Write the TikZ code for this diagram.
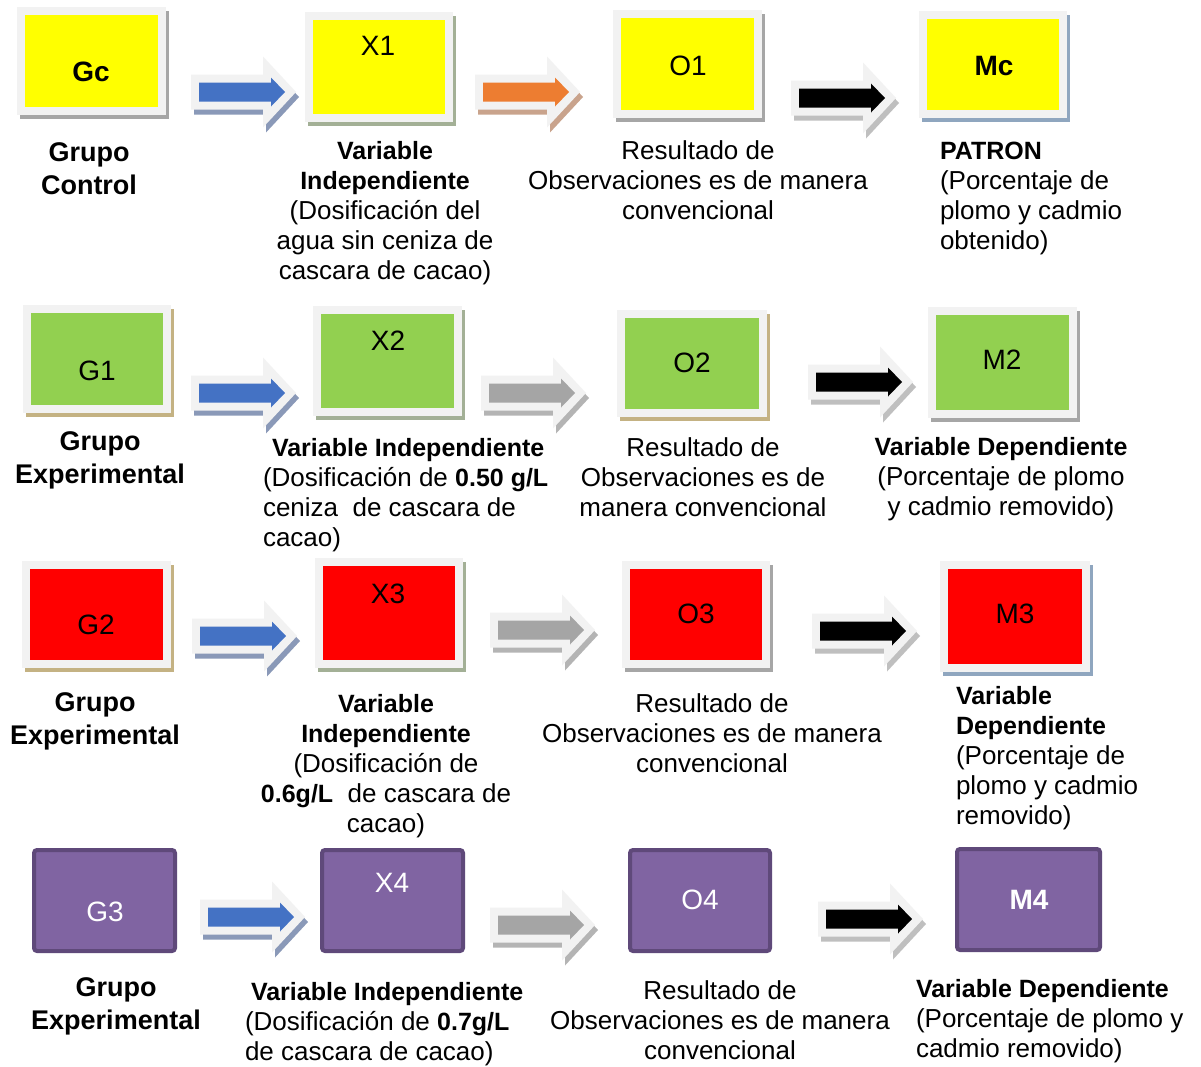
\documentclass[tikz,border=0pt]{standalone}
\usepackage{fontspec}
\setmainfont{Liberation Sans}
\definecolor{frameC}{HTML}{F2F2F2}
\definecolor{yelC}{HTML}{FFFF00}
\definecolor{grnC}{HTML}{92D050}
\definecolor{redC}{HTML}{FF0000}
\definecolor{purC}{HTML}{8064A2}
\definecolor{purD}{HTML}{5F497A}
\definecolor{shGray}{HTML}{A6A6A6}
\definecolor{shGreen}{HTML}{A3B096}
\definecolor{shBlue}{HTML}{8FA6BF}
\definecolor{shTan}{HTML}{C4B283}
\definecolor{arBlue}{HTML}{4472C4}
\definecolor{arBlueSh}{HTML}{8A99B8}
\definecolor{arOrange}{HTML}{ED7D31}
\definecolor{arOrangeSh}{HTML}{C9A38C}
\definecolor{arGray}{HTML}{A5A5A5}
\definecolor{arGraySh}{HTML}{B4B4B4}
\definecolor{arBlackSh}{HTML}{BFBFBF}
\newcommand\bt[1]{{\fontsize{25}{30}\selectfont\bfseries #1}}
\tikzset{
  txt/.style={inner sep=0pt, outer sep=0pt, font=\fontsize{26}{30}\selectfont},
  grp/.style={inner sep=0pt, outer sep=0pt, font=\fontsize{27}{33}\selectfont\bfseries, align=center, anchor=north},
  blab/.style={inner sep=0pt, outer sep=0pt, font=\fontsize{28}{30}\selectfont},
  wlab/.style={blab, text=white},
}
% framed box: name x1 y1 x2 y2 fill shadow
\newcommand\fbx[7]{%
  \fill[#7] ({#2+3},{#3+4}) rectangle ({#4+3},{#5+4});
  \node[draw=frameC, line width=8pt, fill=#6, inner sep=0pt, outer sep=0pt,
        minimum width={#4-#2-8}, minimum height={#5-#3-8}] (#1) at ({(#2+#4)/2},{(#3+#5)/2}) {};}
% purple box: name x1 y1 x2 y2
\newcommand\pbx[5]{%
  \node[draw=purD, line width=4pt, fill=purC, rounded corners=3pt, inner sep=0pt, outer sep=0pt,
        minimum width={#4-#2-4}, minimum height={#5-#3-4}] (#1) at ({(#2+#4)/2},{(#3+#5)/2}) {};}
% block arrow: x0 yc color shadow
\newcommand\barrow[4]{%
  \begin{scope}[shift={(#1,#2)}]
    \fill[#4] (3,-12.5) -- (75,-12.5) -- (75,-30.5) -- (108,5) -- (75,40.5) -- (75,22.5) -- (3,22.5) -- cycle;
    \fill[frameC] (0,-17.5) -- (72,-17.5) -- (72,-35.5) -- (105,0) -- (72,35.5) -- (72,17.5) -- (0,17.5) -- cycle;
    \fill[#3] (8,-9.5) -- (80,-9.5) -- (80,-14.5) -- (94,0) -- (80,14.5) -- (80,9.5) -- (8,9.5) -- cycle;
  \end{scope}}
\begin{document}
\begin{tikzpicture}[x=1pt,y=-1pt]
\useasboundingbox[fill=white] (0,0) rectangle (1201,1066);

% ---------- Row 1 ----------
\fbx{Gc}{17}{7}{166}{115}{yelC}{shGray}
\fbx{X1}{305}{12}{453}{122}{yelC}{shGreen}
\fbx{O1}{613}{10}{762}{118}{yelC}{shGray}
\fbx{Mc}{919}{11}{1067}{118}{yelC}{shBlue}
\node[blab] (lGc) at (91,72) {\textbf{Gc}};
\node[blab] (lX1) at (378,46) {X1};
\node[blab] (lO1) at (688,66) {O1};
\node[blab] (lMc) at (994,66) {\textbf{Mc}};
\barrow{191}{92}{arBlue}{arBlueSh}
\barrow{475}{92}{arOrange}{arOrangeSh}
\barrow{791}{98}{black}{arBlackSh}

\node[grp] (tGc) at (89,138) {\strut Grupo\\Control};
\node[txt, align=center, anchor=north] (tX1) at (385,138)
  {\strut\bt{Variable}\\\bt{Independiente}\\(Dosificación del\\agua sin ceniza de\\cascara de cacao)};
\node[txt, align=center, anchor=north] (tO1) at (698,138)
  {\strut Resultado de\\Observaciones es de manera\\convencional};
\node[txt, align=left, anchor=north west] (tMc) at (940,138)
  {\strut\bt{PATRON}\\(Porcentaje de\\plomo y cadmio\\obtenido)};

% ---------- Row 2 ----------
\fbx{G1}{23}{305}{171}{413}{grnC}{shTan}
\fbx{X2}{313}{306}{462}{416}{grnC}{shGreen}
\fbx{O2}{617}{310}{767}{417}{grnC}{shTan}
\fbx{M2}{928}{307}{1077}{418}{grnC}{shGray}
\node[blab] (lG1) at (97,371) {G1};
\node[blab] (lX2) at (388,341) {X2};
\node[blab] (lO2) at (692,363) {O2};
\node[blab] (lM2) at (1002,360) {M2};
\barrow{191}{393}{arBlue}{arBlueSh}
\barrow{481}{393}{arGray}{arGraySh}
\barrow{808}{382}{black}{arBlackSh}

\node[grp] (tG1) at (100,427) {\strut Grupo\\Experimental};
\node[txt, align=left, anchor=north west] (tX2) at (263,435)
  {\strut\hspace*{9pt}\bt{Variable Independiente}\\(Dosificación de \bt{0.50 g/L}\\ceniza\ \ de cascara de\\cacao)};
\node[txt, align=center, anchor=north] (tO2) at (703,435)
  {\strut Resultado de\\Observaciones es de\\manera convencional};
\node[txt, align=center, anchor=north] (tM2) at (1001,434)
  {\strut\bt{Variable Dependiente}\\(Porcentaje de plomo\\y cadmio removido)};

% ---------- Row 3 ----------
\fbx{G2}{22}{561}{171}{668}{redC}{shTan}
\fbx{X3}{315}{558}{463}{668}{redC}{shGreen}
\fbx{O3}{622}{561}{770}{668}{redC}{shGray}
\fbx{M3}{940}{561}{1090}{672}{redC}{shBlue}
\node[blab] (lG2) at (96,625) {G2};
\node[blab] (lX3) at (388,594) {X3};
\node[blab] (lO3) at (696,614) {O3};
\node[blab] (lM3) at (1015,614) {M3};
\barrow{192}{636}{arBlue}{arBlueSh}
\barrow{490}{630}{arGray}{arGraySh}
\barrow{812}{631}{black}{arBlackSh}

\node[grp] (tG2) at (95,688) {\strut Grupo\\Experimental};
\node[txt, align=center, anchor=north] (tX3) at (386,691)
  {\strut\bt{Variable}\\\bt{Independiente}\\(Dosificación de\\\bt{0.6g/L}\ \ de cascara de\\cacao)};
\node[txt, align=center, anchor=north] (tO3) at (712,691)
  {\strut Resultado de\\Observaciones es de manera\\convencional};
\node[txt, align=left, anchor=north west] (tM3) at (956,683)
  {\strut\bt{Variable}\\\bt{Dependiente}\\(Porcentaje de\\plomo y cadmio\\removido)};

% ---------- Row 4 ----------
\pbx{G3}{32}{848}{177}{953}
\pbx{X4}{320}{848}{465}{953}
\pbx{O4}{628}{848}{772}{953}
\pbx{M4}{955}{847}{1102}{952}
\node[wlab] (lG3) at (105,912) {G3};
\node[wlab] (lX4) at (392,883) {X4};
\node[wlab] (lO4) at (700,900) {O4};
\node[wlab] (lM4) at (1029,900) {\textbf{M4}};
\barrow{200}{917}{arBlue}{arBlueSh}
\barrow{490}{925}{arGray}{arGraySh}
\barrow{818}{919}{black}{arBlackSh}

\node[grp] (tG3) at (116,973) {\strut Grupo\\Experimental};
\node[txt, align=left, anchor=north west] (tX4) at (245,979)
  {\strut\hspace*{6pt}\bt{Variable Independiente}\\(Dosificación de \bt{0.7g/L}\\de cascara de cacao)};
\node[txt, align=center, anchor=north] (tO4) at (720,978)
  {\strut Resultado de\\Observaciones es de manera\\convencional};
\node[txt, align=left, anchor=north west] (tM4) at (916,976)
  {\strut\bt{Variable Dependiente}\\(Porcentaje de plomo y\\cadmio removido)};
\end{tikzpicture}
\end{document}
